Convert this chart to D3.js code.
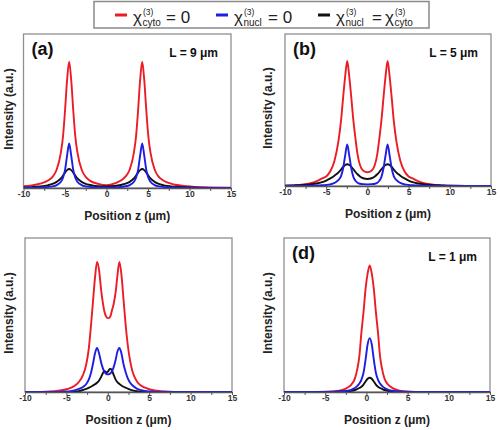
<!DOCTYPE html>
<html><head><meta charset="utf-8">
<script src="https://cdn.jsdelivr.net/npm/d3@7"></script>
<style>body{margin:0;background:#fff} svg{display:block}</style>
</head><body><svg id="c" width="500" height="430"></svg>
<script>
// ---------- data ----------
const xTickLabels = [-10, -5, 0, 5, 10, 15];
const xTickMarks = [-10, -7.5, -5, -2.5, 0, 2.5, 5, 7.5, 10, 12.5, 15];
const seriesNames = ["cyto", "nucl", "both"];
const panelLetters = ["(a)", "(b)", "", "(d)"];
const panelLengths = ["L = 9 \u03bcm", "L = 5 \u03bcm", "", "L = 1 \u03bcm"];
const xLabel = "Position z (\u03bcm)";
const yLabel = "Intensity (a.u.)";

// panel (a)
const zA = [-10,-9,-8,-7,-6.5,-6,-5.5,-5.25,-5,-4.75,-4.5,-4.25,-4,-3.75,-3.5,-3,-2.5,-2,-1,0,1,2.3,2.8,3.3,3.55,3.8,4.05,4.3,4.55,4.8,5.05,5.3,5.8,6.3,6.8,7.3,8.3,9.3,10.3,12,15];
const aRed = [0.012,0.017,0.028,0.050,0.072,0.12,0.23,0.33,0.50,0.70, 0.82,0.70,0.50,0.33,0.23, 0.12,0.072,0.048,0.027,0.018, 0.03,0.075,0.12,0.23,0.33, 0.50,0.70,0.82,0.70,0.50, 0.33,0.23,0.12,0.072,0.05, 0.036,0.021,0.013,0.009,0.005,0.002];
const aBlue = [0.001,0.002,0.004,0.007,0.011,0.019,0.04,0.065,0.115,0.21, 0.29,0.21,0.115,0.065,0.04, 0.019,0.011,0.007,0.004,0.003, 0.004,0.011,0.019,0.04,0.065, 0.115,0.21,0.29,0.21,0.115, 0.065,0.04,0.019,0.011,0.007, 0.005,0.003,0.002,0.001,0,0];
const aBlack = [0.004,0.006,0.010,0.019,0.027,0.04,0.062,0.08,0.10,0.116, 0.123,0.116,0.10,0.08,0.062, 0.04,0.027,0.02,0.011,0.01, 0.013,0.028,0.04,0.062,0.08, 0.10,0.116,0.123,0.116,0.10, 0.08,0.062,0.04,0.027,0.019, 0.013,0.008,0.005,0.003,0.001,0];

// panel (b)
const zB = [-10,-9,-8,-7,-6,-5.5,-5,-4.5,-4,-3.5, -3.2,-2.95,-2.7,-2.45,-2.2, -1.95,-1.7,-1.45,-1.2,-0.9, -0.5,0,0.5,0.9,1.2, 1.45,1.7,1.95,2.2,2.45, 2.7,2.95,3.2,3.5,4, 4.5,5,5.5,6,7, 8,9,10,12,15];
const bRed = [0.002,0.004,0.009,0.017,0.035,0.05,0.063,0.097,0.165,0.30, 0.43,0.58,0.72,0.822,0.72, 0.58,0.43,0.314,0.21,0.138, 0.10,0.09,0.10,0.138,0.21, 0.314,0.43,0.58,0.72,0.822, 0.72,0.58,0.43,0.30,0.165, 0.097,0.063,0.05,0.035,0.017, 0.009,0.004,0.002,0.001,0];
const bBlue = [0,0,0.001,0.002,0.004,0.005,0.007,0.011,0.02,0.04, 0.065,0.115,0.2,0.274,0.2, 0.115,0.06,0.035,0.022,0.015, 0.012,0.011,0.012,0.015,0.022, 0.035,0.06,0.115,0.2,0.274, 0.2,0.115,0.065,0.04,0.02, 0.011,0.007,0.005,0.004,0.002, 0.001,0,0,0,0];
const bBlack = [0.002,0.004,0.006,0.01,0.018,0.025,0.036,0.05,0.068,0.09, 0.108,0.125,0.138,0.143,0.138, 0.126,0.11,0.092,0.077,0.063, 0.051,0.046,0.051,0.063,0.077, 0.092,0.11,0.126,0.138,0.143, 0.138,0.125,0.108,0.09,0.068, 0.05,0.036,0.025,0.018,0.01, 0.006,0.004,0.002,0.001,0];

// panel (c)
const zC = [-10,-8,-7,-6,-5,-4.5,-4,-3.5,-3,-2.6, -2.3,-2.05,-1.8,-1.55,-1.3, -1.05,-0.8,-0.6,-0.4,-0.2, 0,0.1,0.3,0.5,0.7, 0.95,1.15,1.4,1.65,1.9, 2.15,2.4,2.7,3,3.5, 4,4.5,5,6,7, 8,10,12,15];
const cRed = [0,0.001,0.003,0.008,0.018,0.027,0.04,0.065,0.11,0.18, 0.28,0.42,0.58,0.74,0.844, 0.79,0.66,0.58,0.52,0.49, 0.48,0.48,0.49,0.53,0.57, 0.65,0.75,0.844,0.76,0.60, 0.44,0.31,0.20,0.13,0.07, 0.042,0.028,0.018,0.008,0.003, 0.001,0,0,0];
const cBlue = [0,0,0,0,0.003,0.006,0.011,0.02,0.033,0.052, 0.08,0.12,0.18,0.25,0.286, 0.25,0.19,0.155,0.13,0.118, 0.115,0.115,0.12,0.135,0.16, 0.21,0.26,0.286,0.25,0.18, 0.13,0.09,0.06,0.042,0.022, 0.012,0.007,0.004,0.001,0, 0,0,0,0];
const cBlack = [0,0,0,0,0,0.001,0.003,0.006,0.013,0.02, 0.027,0.034,0.042,0.05,0.06, 0.075,0.098,0.122,0.136,0.128, 0.132,0.14,0.152,0.14,0.113, 0.08,0.064,0.052,0.042,0.034, 0.028,0.022,0.016,0.011,0.005, 0.002,0.001,0,0,0, 0,0,0,0];

// panel (d)
const zD = [-10,-6,-4,-3.5,-3,-2.5,-2.1,-1.8,-1.4,-1.1, -0.85,-0.6,-0.35,-0.1,0.15, 0.4,0.65,0.9,1.15,1.4, 1.65,1.9,2.2,2.6,3.3, 4,4.5,5,6,8, 10,15];
const dRed = [0,0.001,0.004,0.007,0.012,0.022,0.035,0.05,0.087,0.15, 0.235,0.39,0.52,0.67,0.77, 0.822,0.77,0.67,0.52,0.39, 0.235,0.15,0.087,0.05,0.022, 0.009,0.005,0.003,0.001,0, 0,0];
const dBlue = [0,0,0.002,0.003,0.005,0.007,0.011,0.016,0.026,0.04, 0.055,0.08,0.125,0.21,0.31, 0.35,0.31,0.21,0.125,0.08, 0.055,0.04,0.026,0.016,0.007, 0.004,0.002,0.001,0,0, 0,0];
const dBlack = [0,0,0.001,0.002,0.003,0.004,0.006,0.008,0.013,0.02, 0.026,0.034,0.048,0.068,0.086, 0.093,0.086,0.068,0.048,0.034, 0.026,0.02,0.013,0.008,0.004, 0.002,0.001,0,0,0, 0,0];

// ---------- layout / style ----------
const colors = {cyto: "#ec1c24", nucl: "#1d1de6", both: "#111111"};
const FONT = "'Liberation Sans', Arial, sans-serif";
const boxes = [
  {x0: 23.5, x1: 231, y0: 34, y1: 188, lx: 9, z: zA, s: [aRed, aBlue, aBlack]},
  {x0: 285, x1: 491, y0: 34, y1: 186, lx: 268, z: zB, s: [bRed, bBlue, bBlack]},
  {x0: 25, x1: 232, y0: 238, y1: 392, lx: 9, z: zC, s: [cRed, cBlue, cBlack]},
  {x0: 284, x1: 490, y0: 238, y1: 392, lx: 268, z: zD, s: [dRed, dBlue, dBlack]}
];

const svg = d3.select("#c");

boxes.forEach((b, i) => {
  const g = svg.append("g");
  const x = d3.scaleLinear().domain([-10, 15]).range([b.x0, b.x1]);
  const y = d3.scaleLinear().domain([0, 1]).range([b.y1, b.y0]);

  g.append("clipPath").attr("id", "clip" + i).append("rect")
    .attr("x", b.x0).attr("y", b.y0 - 2).attr("width", b.x1 - b.x0).attr("height", b.y1 - b.y0 + 2);

  // frame
  g.append("rect").attr("x", b.x0).attr("y", b.y0)
    .attr("width", b.x1 - b.x0).attr("height", b.y1 - b.y0)
    .attr("fill", "none").attr("stroke", "#8f8f8f").attr("stroke-width", 1.3);

  // curves: red, black, blue
  const order = [0, 2, 1];
  order.forEach(k => {
    const vals = b.s[k];
    const pts = b.z.map((zz, j) => [zz, vals[j]]);
    const line = d3.line().x(d => x(d[0])).y(d => y(d[1])).curve(d3.curveMonotoneX);
    g.append("path").attr("d", line(pts))
      .attr("fill", "none").attr("stroke", colors[seriesNames[k]])
      .attr("stroke-width", 1.9).attr("clip-path", `url(#clip${i})`);
  });

  // x axis
  const ax = g.append("g").attr("transform", `translate(0,${b.y1})`)
    .call(d3.axisBottom(x).tickValues(xTickMarks).tickSize(3).tickSizeOuter(0)
      .tickFormat(d => xTickLabels.includes(d) ? String(d) : ""));
  ax.select(".domain").attr("stroke", "#555").attr("stroke-width", 1.3);
  ax.selectAll(".tick line").attr("stroke", "#555");
  ax.selectAll(".tick text").attr("fill", "#333").attr("font-size", 8.5)
    .attr("font-weight", "bold").attr("font-family", FONT).attr("dy", "0.6em").attr("y", 4);

  // axis titles
  g.append("text").attr("x", (b.x0 + b.x1) / 2).attr("y", b.y1 + 32)
    .attr("text-anchor", "middle").attr("font-family", FONT).attr("font-weight", "bold")
    .attr("font-size", 12).attr("fill", "#222").text(xLabel);
  const cy = (b.y0 + b.y1) / 2 - 2;
  g.append("text").attr("transform", `translate(${b.lx + 4},${cy}) rotate(-90)`)
    .attr("text-anchor", "middle").attr("font-family", FONT).attr("font-weight", "bold")
    .attr("font-size", 12).attr("fill", "#222").text(yLabel);

  if (panelLetters[i]) {
    g.append("text").attr("x", b.x0 + 8).attr("y", b.y0 + 21)
      .attr("font-family", FONT).attr("font-weight", "bold").attr("font-size", 18)
      .attr("fill", "#111").text(panelLetters[i]);
  }
  if (panelLengths[i]) {
    g.append("text").attr("x", b.x1 - 13).attr("y", b.y0 + 23).attr("text-anchor", "end")
      .attr("font-family", FONT).attr("font-weight", "bold").attr("font-size", 12)
      .attr("fill", "#111").text(panelLengths[i]);
  }
});

// ---------- legend ----------
const lg = svg.append("g");
lg.append("rect").attr("x", 94).attr("y", 1.5).attr("width", 335).attr("height", 26.5)
  .attr("fill", "#fff").attr("stroke", "#8a8a8a").attr("stroke-width", 1.5);

function chi(x, sub) {
  lg.append("text").attr("x", x).attr("y", 22.5).attr("font-family", FONT)
    .attr("font-size", 17).attr("fill", "#222").text("\u03c7");
  lg.append("text").attr("x", x + 10).attr("y", 14.5).attr("font-family", FONT)
    .attr("font-size", 8.5).attr("fill", "#222").text("(3)");
  lg.append("text").attr("x", x + 9.5).attr("y", 26).attr("font-family", FONT)
    .attr("font-size", 10).attr("fill", "#222").text(sub);
}
function eq(x, t) {
  lg.append("text").attr("x", x).attr("y", 22.5).attr("font-family", FONT)
    .attr("font-size", 17).attr("fill", "#222").text(t);
}
function dash(x, c) {
  lg.append("line").attr("x1", x).attr("x2", x + 12).attr("y1", 15).attr("y2", 15)
    .attr("stroke", c).attr("stroke-width", 3);
}
dash(115, colors.cyto); chi(133, "cyto"); eq(166, "= 0");
dash(216, colors.nucl); chi(234, "nucl"); eq(268, "= 0");
dash(318, colors.both); chi(336, "nucl"); eq(372, "="); chi(385, "cyto");
</script>
</body></html>
